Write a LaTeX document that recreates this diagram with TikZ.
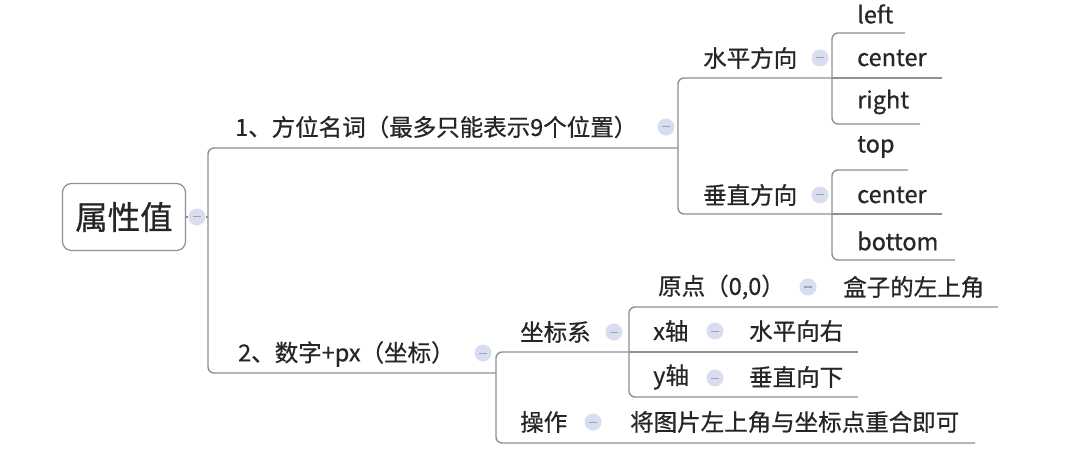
\documentclass[tikz,border=0pt]{standalone}
\usepackage{fontspec}
\setmainfont{Noto Sans CJK SC}[FakeBold=0.6]
\definecolor{linec}{HTML}{909090}
\definecolor{txtc}{HTML}{262626}
\definecolor{togc}{HTML}{D9DDF0}
\definecolor{togd}{HTML}{9DA2B5}
\tikzset{
  line/.style={draw=linec, line width=1.4pt, rounded corners=6pt},
  lbl/.style={anchor=west, inner sep=0pt, text=txtc, font=\fontsize{23.5}{26}\selectfont},
  tog/.style={circle, fill=togc, draw=none, minimum size=17pt, inner sep=0pt,
    path picture={\draw[togd, line width=1pt] ([xshift=-4pt]path picture bounding box.center) -- ([xshift=4pt]path picture bounding box.center);}},
  rootbox/.style={draw=linec, line width=1.2pt, rounded corners=9pt, fill=white,
    minimum width=123pt, minimum height=67pt, inner sep=0pt, text=txtc,
    font=\fontsize{32.5}{36}\selectfont}
}
\begin{document}
\begin{tikzpicture}[x=1pt,y=-1pt]
\useasboundingbox[fill=white] (0,0) rectangle (1065,462);

% root
\node[rootbox] (root) at (124,217) {属性值};
\node[tog] (t0) at (197,217) {};
\coordinate (j0) at (208,217);
\draw[line] (root.east) -- (t0.west);
\draw[line] (t0.east) -- (j0);

% level 1 branches
\coordinate (b1a) at (678,148);
\coordinate (b2a) at (496,373);
\draw[line] (b1a) -- (208,148) -- (208,373) -- (b2a);

\node[lbl] (n1) at (235,127) {1、方位名词（最多只能表示9个位置）};
\node[tog] (t1) at (666,127) {};
\node[lbl] (n2) at (238,354) {2、数字+px（坐标）};
\node[tog] (t2) at (483,353) {};

% branch 1 children
\coordinate (h1) at (832,78);
\coordinate (h2) at (832,214);
\draw[line] (h1) -- (678,78) -- (678,214) -- (h2);
\node[lbl] (sp) at (703,58) {水平方向};
\node[tog] (tsp) at (820,58) {};
\node[lbl] (cz) at (703,195) {垂直方向};
\node[tog] (tcz) at (820,195) {};

% horizontal children
\node[lbl] (left) at (857,14) {left};
\node[lbl] (hc) at (857,58) {center};
\node[lbl] (right) at (857,102) {right};
\coordinate (lu) at (905,33);
\coordinate (ru) at (920,124);
\coordinate (hcu) at (942,78);
\draw[line] (lu) -- (832,33) -- (832,124) -- (ru);
\draw[line] (h1) -- (hcu);

% vertical children
\node[lbl] (top) at (857,147) {top};
\node[lbl] (vc) at (857,195) {center};
\node[lbl] (bot) at (857,241) {bottom};
\coordinate (tu) at (908,170);
\coordinate (bu) at (955,260);
\coordinate (vcu) at (942,214);
\draw[line] (tu) -- (832,170) -- (832,260) -- (bu);
\draw[line] (h2) -- (vcu);

% branch 2 children
\coordinate (zb) at (629,352);
\coordinate (czu) at (975,443);
\draw[line] (zb) -- (496,352) -- (496,443) -- (czu);
\node[lbl] (zbx) at (520,332) {坐标系};
\node[tog] (tzb) at (614,332) {};
\node[lbl] (cz2) at (520,422) {操作};
\node[tog] (tcz2) at (593,422) {};
\node[lbl] (czt) at (630,422) {将图片左上角与坐标点重合即可};

% coordinate system children
\coordinate (yu) at (998,307);
\coordinate (yyu) at (858,397);
\coordinate (xu) at (858,352);
\draw[line] (yu) -- (629,307) -- (629,397) -- (yyu);
\draw[line] (zb) -- (xu);
\node[lbl] (yd) at (658,287) {原点（0,0）};
\node[tog] (tyd) at (808,287) {};
\node[lbl] (yda) at (843,287) {盒子的左上角};
\node[lbl] (xa) at (653,331) {x轴};
\node[tog] (txa) at (715,331) {};
\node[lbl] (xaa) at (749,331) {水平向右};
\node[lbl] (ya) at (653,377) {y轴};
\node[tog] (tya) at (715,378) {};
\node[lbl] (yaa) at (749,377) {垂直向下};
\end{tikzpicture}
\end{document}
